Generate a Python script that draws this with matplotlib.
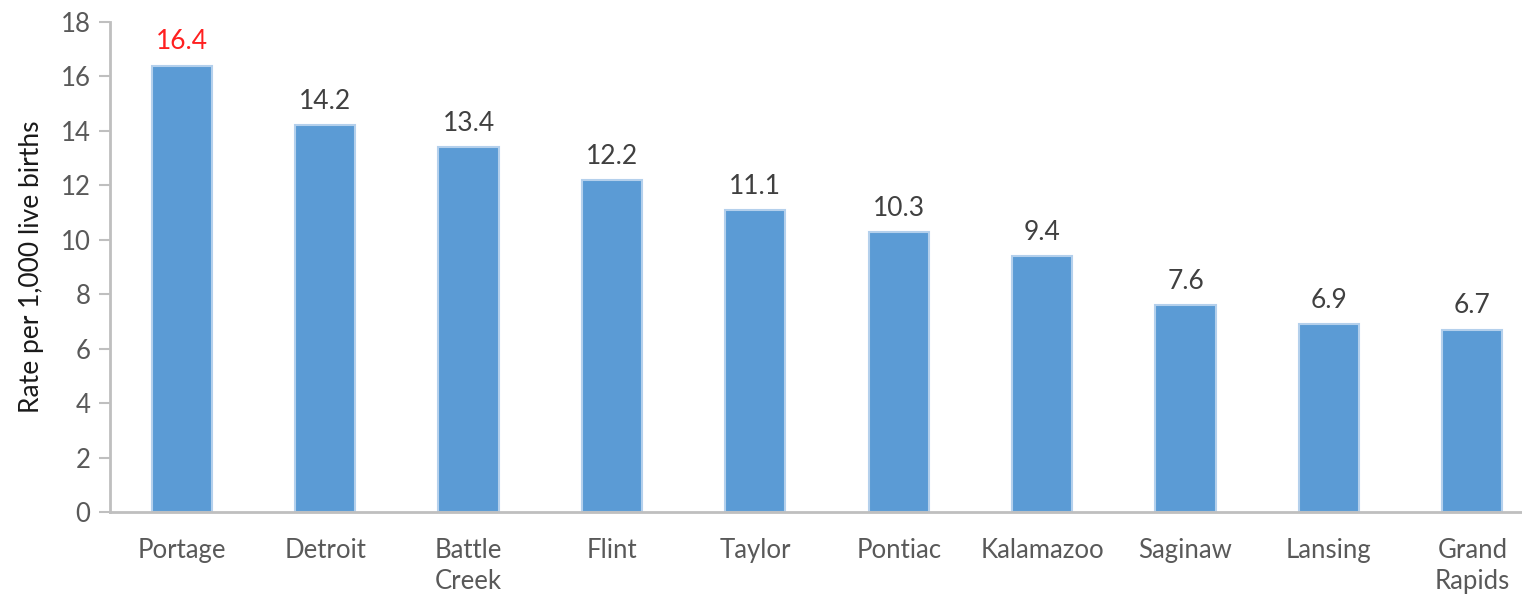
import matplotlib
matplotlib.use("Agg")
import matplotlib.pyplot as plt

cities = ["Portage", "Detroit", "Battle\nCreek", "Flint", "Taylor", "Pontiac",
          "Kalamazoo", "Saginaw", "Lansing", "Grand\nRapids"]
rates = [16.4, 14.2, 13.4, 12.2, 11.1, 10.3, 9.4, 7.6, 6.9, 6.7]
label_colors = ["#ff2020"] + ["#404040"] * 9

plt.rcParams["font.family"] = ["Lato", "DejaVu Sans"]

fig = plt.figure(figsize=(15.22, 5.96), dpi=100)
ax = fig.add_axes([0.0723, 0.141, 0.9422, 0.822])

x = range(len(cities))
bars = ax.bar(x, rates, width=0.42, color="#5b9bd5", edgecolor="#b4d0ec", linewidth=1.5)

for xi, v, c in zip(x, rates, label_colors):
    ax.annotate(f"{v}", (xi, v), xytext=(0, 8), textcoords="offset points",
                ha="center", va="bottom", fontsize=19, color=c)

ax.set_xlim(-0.5, len(cities) - 0.5)
ax.set_ylim(0, 18)
ax.set_yticks(range(0, 19, 2))
ax.set_xticks(list(x))
ax.set_xticklabels(cities, fontsize=18.5, color="#595959", linespacing=1.3)
ax.tick_params(axis="x", length=0, pad=19)
ax.tick_params(axis="y", length=8, width=1.5, color="#bfbfbf", labelsize=18.5,
               labelcolor="#595959", pad=6)

for s in ["top", "right"]:
    ax.spines[s].set_visible(False)
for s in ["left", "bottom"]:
    ax.spines[s].set_color("#bfbfbf")
    ax.spines[s].set_linewidth(2)

ax.set_ylabel("Rate per 1,000 live births", fontsize=19, color="#1a1a1a", labelpad=12)

fig.savefig("out.png", dpi=100)
